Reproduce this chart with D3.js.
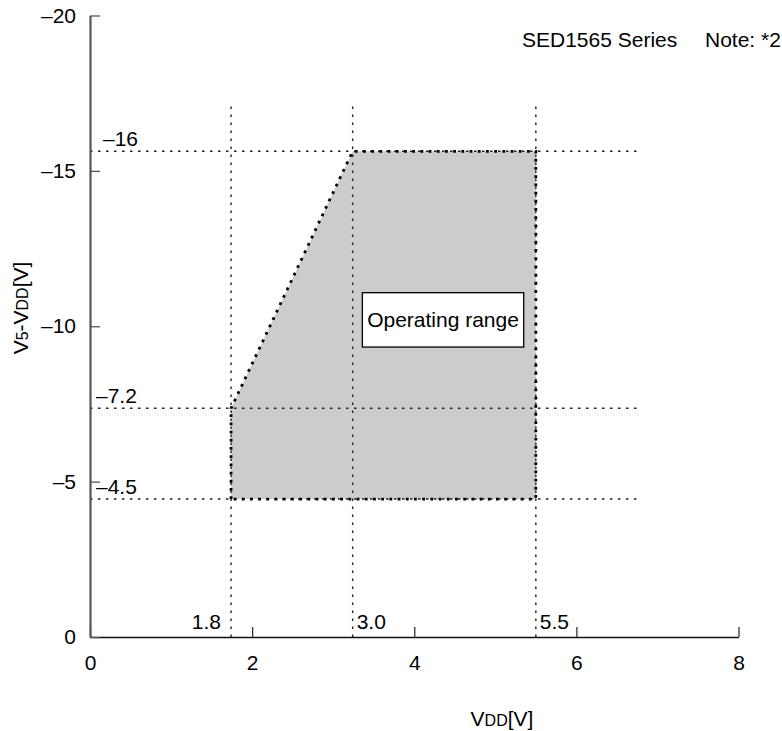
<!DOCTYPE html>
<html>
<head>
<meta charset="utf-8">
<script src="https://cdn.jsdelivr.net/npm/d3@7"></script>
<style>
  body { margin: 0; background: #fff; }
  text { font-family: "Liberation Sans", Arial, sans-serif; fill: #000; }
</style>
</head>
<body>
<svg id="chart" width="782" height="731"></svg>
<script>
"use strict";

// axis ticks
const X_TICKS = [0, 2, 4, 6, 8];
const Y_TICKS = [0, -5, -10, -15, -20];

// guide lines (position as drawn, label as printed)
const V_GUIDES = [1.74, 3.24, 5.5];
const V_GUIDE_LABELS = ["1.8", "3.0", "5.5"];
const H_GUIDES = [-15.63, -7.36, -4.44];
const H_GUIDE_LABELS = ["\u201316", "\u20137.2", "\u20134.5"];

// operating range outline
const RANGE_X = [1.74, 1.74, 3.24, 5.5, 5.5];
const RANGE_Y = [-4.44, -7.36, -15.63, -15.63, -4.44];

const svg = d3.select("#chart");

const x = d3.scaleLinear().domain([0, 8]).range([90, 738.5]);
const y = d3.scaleLinear().domain([0, -20]).range([637, 15.5]);

const FS = 21;
const FS_SMALL = 16;

// shaded area
const pts = RANGE_X.map((v, i) => [x(v), y(RANGE_Y[i])]);
svg.append("path")
  .attr("d", d3.line()(pts) + "Z")
  .attr("fill", "#cccccc")
  .attr("stroke", "none");

// vertical guides
svg.selectAll(".vguide")
  .data(V_GUIDES)
  .enter()
  .append("line")
  .attr("class", "vguide")
  .attr("x1", (d) => x(d))
  .attr("x2", (d) => x(d))
  .attr("y1", y(-17.07))
  .attr("y2", y(0))
  .attr("stroke", "#222")
  .attr("stroke-width", 1.4)
  .attr("stroke-dasharray", "2.5 5.5");

// horizontal guides
svg.selectAll(".hguide")
  .data(H_GUIDES)
  .enter()
  .append("line")
  .attr("class", "hguide")
  .attr("x1", x(0))
  .attr("x2", x(6.75))
  .attr("y1", (d) => y(d))
  .attr("y2", (d) => y(d))
  .attr("stroke", "#222")
  .attr("stroke-width", 1.4)
  .attr("stroke-dasharray", "2.5 5.5");

// outline of the range, thicker dots
svg.append("path")
  .attr("d", d3.line()(pts) + "Z")
  .attr("fill", "none")
  .attr("stroke", "#000")
  .attr("stroke-width", 2.8)
  .attr("stroke-dasharray", "2.8 5.4");

// x axis
const xAxis = svg.append("g")
  .attr("transform", `translate(0,${y(0)})`)
  .call(d3.axisBottom(x).tickValues(X_TICKS).tickSizeInner(-10).tickSizeOuter(0).tickPadding(18));
xAxis.select(".domain").attr("stroke", "#111").attr("stroke-width", 1.5);
xAxis.selectAll(".tick line").attr("stroke", "#333").attr("stroke-width", 1.3);
xAxis.selectAll(".tick text")
  .attr("font-size", FS)
  .attr("font-family", "Liberation Sans, Arial, sans-serif")
  .attr("fill", "#000");

// y axis
const yAxis = svg.append("g")
  .attr("transform", `translate(${x(0)},0)`)
  .call(d3.axisLeft(y).tickValues(Y_TICKS).tickSizeInner(-10).tickSizeOuter(0).tickPadding(14)
    .tickFormat((d) => (d < 0 ? "\u2013" + Math.abs(d) : d)));
yAxis.select(".domain").attr("stroke", "#555").attr("stroke-width", 2.2);
yAxis.selectAll(".tick line").attr("stroke", "#555").attr("stroke-width", 1.3);
yAxis.selectAll(".tick text")
  .attr("font-size", FS)
  .attr("font-family", "Liberation Sans, Arial, sans-serif")
  .attr("fill", "#000");

// guide labels
svg.selectAll(".vlabel")
  .data(V_GUIDES)
  .enter()
  .append("text")
  .attr("x", (d, i) => (i === 0 ? x(d) - 10 : x(d) + 4))
  .attr("y", y(0) - 8)
  .attr("text-anchor", (d, i) => (i === 0 ? "end" : "start"))
  .attr("font-size", FS)
  .text((d, i) => V_GUIDE_LABELS[i]);

svg.selectAll(".hlabel")
  .data(H_GUIDES)
  .enter()
  .append("text")
  .attr("x", (d, i) => (i === 0 ? x(0) + 13 : x(0) + 6))
  .attr("y", (d) => y(d) - 5)
  .attr("font-size", FS)
  .text((d, i) => H_GUIDE_LABELS[i]);

// title notes
svg.append("text").attr("x", 522).attr("y", 47).attr("font-size", FS).text("SED1565 Series");
svg.append("text").attr("x", 705).attr("y", 47).attr("font-size", FS).text("Note: *2");

// operating range label box
const bx0 = x(3.36), bx1 = x(5.35), by0 = y(-11.08), by1 = y(-9.33);
svg.append("rect")
  .attr("x", bx0)
  .attr("y", by0)
  .attr("width", bx1 - bx0)
  .attr("height", by1 - by0)
  .attr("fill", "#fff")
  .attr("stroke", "#000")
  .attr("stroke-width", 1.3);
svg.append("text")
  .attr("x", (bx0 + bx1) / 2)
  .attr("y", (by0 + by1) / 2 + 7.5)
  .attr("text-anchor", "middle")
  .attr("font-size", FS)
  .text("Operating range");

// axis titles with small subscript-like parts
const xt = svg.append("text")
  .attr("x", 502)
  .attr("y", 726)
  .attr("text-anchor", "middle")
  .attr("font-size", FS);
xt.append("tspan").text("V");
xt.append("tspan").attr("font-size", FS_SMALL).text("DD");
xt.append("tspan").text("[V]");

const yt = svg.append("text")
  .attr("transform", "translate(28,308) rotate(-90)")
  .attr("text-anchor", "middle")
  .attr("font-size", FS);
yt.append("tspan").text("V");
yt.append("tspan").attr("font-size", FS_SMALL).text("5");
yt.append("tspan").text("-V");
yt.append("tspan").attr("font-size", FS_SMALL).text("DD");
yt.append("tspan").text("[V]");
</script>
</body>
</html>
